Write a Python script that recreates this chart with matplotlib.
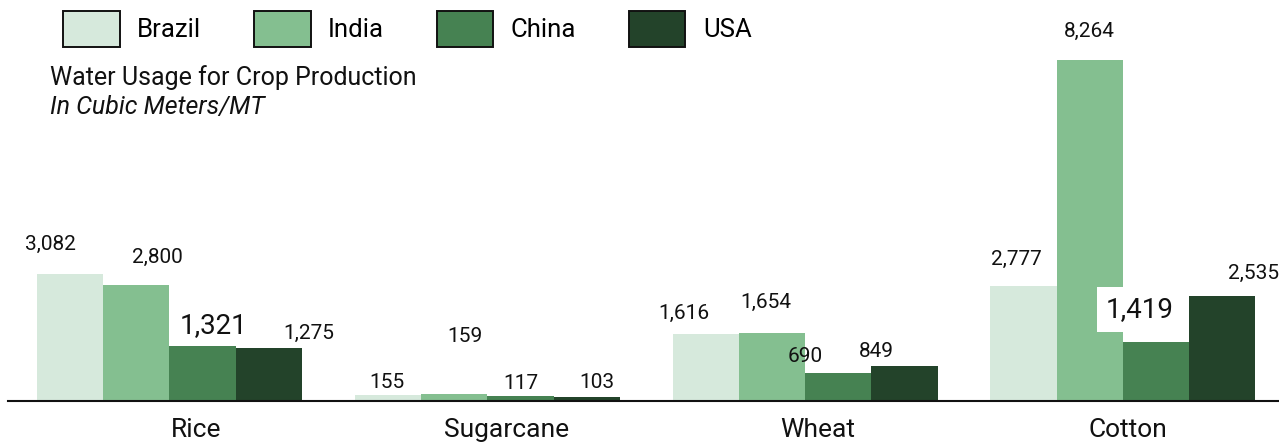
import matplotlib
matplotlib.use("Agg")
import matplotlib.pyplot as plt
import numpy as np
from matplotlib.patches import Patch

plt.rcParams['font.family'] = ['Roboto', 'DejaVu Sans']

crops = ["Rice", "Sugarcane", "Wheat", "Cotton"]
countries = ["Brazil", "India", "China", "USA"]
brazil = [3082, 155, 1616, 2777]
india = [2800, 159, 1654, 8264]
china = [1321, 117, 690, 1419]
usa = [1275, 103, 849, 2535]
series = [brazil, india, china, usa]

colors = ["#d6e9dc", "#84bf90", "#468252", "#23432a"]

# label offsets (pixels: dx, dy above bar top) per series per crop
offsets = {
    0: [(-20, 29), (-1, 12), (-22, 21), (-7, 27)],
    1: [(21, 28), (11, 58), (-6, 30), (0, 29)],
    2: [(11, 21), (0, 13), (-33, 16), (-16, 33)],
    3: [(40, 15), (10, 14), (-28, 14), (31, 23)],
}
big = {(2, 0), (2, 3)}

W, H = 1279, 443
fig = plt.figure(figsize=(W / 100, H / 100), dpi=100)
ax = fig.add_axes([8 / W, 42 / H, (W - 8) / W, 401 / H])

spacing = 317.8
c0 = 169.5
bw = 66.25 / spacing
x = np.arange(len(crops))
ax.set_xlim((8 - c0) / spacing, (W - c0) / spacing)
ax.set_ylim(0, 9718)

for i, (vals, col) in enumerate(zip(series, colors)):
    pos = x + (i - 1.5) * bw
    bars = ax.bar(pos, vals, width=bw, color=col, edgecolor="none", zorder=2)
    for j, (b, v) in enumerate(zip(bars, vals)):
        dx, dy = offsets[i][j]
        isbig = (i, j) in big
        kw = {}
        if (i, j) == (2, 3):
            kw["bbox"] = dict(boxstyle="square,pad=0.33", fc="white", ec="none")
        ax.annotate(f"{v:,}", xy=(b.get_x() + b.get_width() / 2, v),
                    xytext=(dx, dy), textcoords="offset pixels",
                    ha="center", va="center",
                    fontsize=20 if isbig else 15, color="#111111",
                    zorder=5, **kw)

# category labels sit on a slightly narrower band than the bar groups
tick_pos = x * 0.9777 + 0.0834
ax.set_xticks(tick_pos)
ax.set_xticklabels(crops, fontsize=19, color="#111111")
ax.tick_params(axis="x", length=0, pad=12)
ax.set_yticks([])
for s in ["top", "right", "left"]:
    ax.spines[s].set_visible(False)
ax.spines["bottom"].set_linewidth(1.5)
ax.spines["bottom"].set_color("#111111")
ax.patch.set_alpha(0)

handles = [Patch(facecolor=c, edgecolor="#111111", linewidth=1.4) for c in colors]
fig.legend(handles, countries, loc="upper left", bbox_to_anchor=(53 / W, 1.0 - 1 / H),
           ncol=4, frameon=False, fontsize=18.5, handlelength=2.2,
           handleheight=1.75, columnspacing=2.05, handletextpad=0.68,
           borderaxespad=0.2, borderpad=0.2)

fig.text(50 / W, 1 - 85 / H, "Water Usage for Crop Production",
         fontsize=18, va="baseline", ha="left", color="#111111")
fig.text(50 / W, 1 - 114 / H, "In Cubic Meters/MT",
         fontsize=18, va="baseline", ha="left", style="italic", color="#111111")

fig.savefig("out.png", dpi=100)
